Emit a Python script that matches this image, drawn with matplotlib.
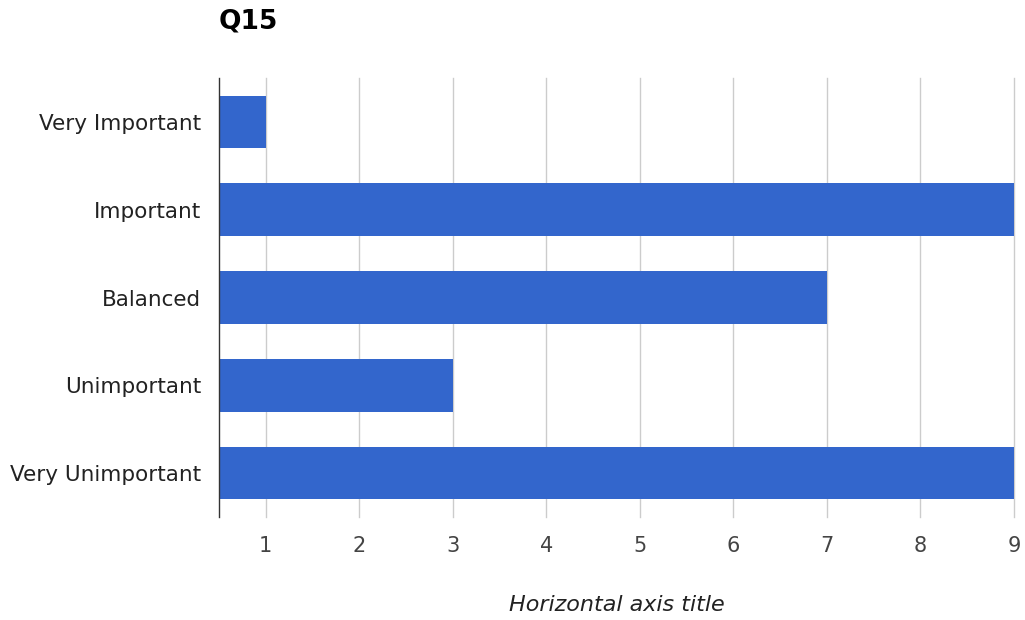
import matplotlib.pyplot as plt

plt.rcParams['font.family'] = ['DejaVu Sans']

categories = ['Very Important', 'Important', 'Balanced', 'Unimportant', 'Very Unimportant']
counts = [1, 9, 7, 3, 9]
xticks = [1, 2, 3, 4, 5, 6, 7, 8, 9]

fig = plt.figure(figsize=(10.25, 6.2), dpi=100)
ax = fig.add_axes([219 / 1025, 1 - 517 / 620, (1014 - 219) / 1025, (517 - 78) / 620])

x0 = 0.5
ypos = list(range(len(categories)))
ax.barh(ypos, [c - x0 for c in counts], left=x0, height=0.6, color='#3366cc', zorder=2)

ax.set_xlim(x0, 9)
ax.set_ylim(len(categories) - 0.5, -0.5)
ax.set_yticks(ypos)
ax.set_yticklabels(categories, fontsize=15.5, color='#222222')
ax.set_xticks(xticks)
ax.set_xticklabels([str(t) for t in xticks], fontsize=15, color='#444444')
ax.tick_params(axis='y', length=0, pad=13)
ax.tick_params(axis='x', length=0, pad=14)

for t in xticks:
    ax.axvline(t, color='#cccccc', linewidth=1, zorder=1, clip_on=False)

for s in ['top', 'right', 'bottom']:
    ax.spines[s].set_visible(False)
ax.spines['left'].set_color('#333333')
ax.spines['left'].set_linewidth(1)

ax.set_xlabel('Horizontal axis title', fontsize=16, style='italic', color='#222222', labelpad=28)
fig.text(219 / 1025, 1 - 22 / 620, 'Q15', fontsize=19, fontweight='bold', va='center', ha='left')

fig.savefig('out.png', dpi=100)
